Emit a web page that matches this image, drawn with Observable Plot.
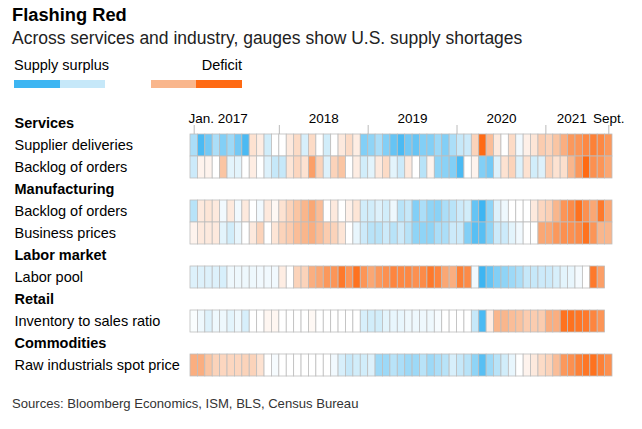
<!DOCTYPE html>
<html><head><meta charset="utf-8">
<script src="https://cdn.jsdelivr.net/npm/d3@7"></script>
<script src="https://cdn.jsdelivr.net/npm/@observablehq/plot@0.6"></script>
<style>
body{margin:0;background:#fff;font-family:"Liberation Sans",Arial,sans-serif;width:642px;height:429px;position:relative;overflow:hidden;color:#000}
.t{position:absolute;left:12px;white-space:nowrap;line-height:1.15}
#legend{position:absolute;top:80px;left:14px;display:flex}
#legend div{width:45.6px;height:8px}
#chart{position:absolute;top:100px;left:0}
</style></head><body>
<div class="t" style="top:4px;font-size:18.3px;font-weight:bold">Flashing Red</div>
<div class="t" style="top:28px;font-size:17.5px;color:#222">Across services and industry, gauges show U.S. supply shortages</div>
<div class="t" style="top:57px;left:14px;font-size:14.5px">Supply surplus</div>
<div class="t" style="top:57px;left:14px;width:228px;text-align:right;font-size:14.5px">Deficit</div>
<div id="legend"></div>
<div id="chart"></div>
<div class="t" style="top:396px;font-size:13.1px;color:#333">Sources: Bloomberg Economics, ISM, BLS, Census Bureau</div>
<script>
// Months Jan 2017 .. Sept 2021 (57 months), values: -1 = supply surplus, +1 = deficit
const supplierDeliveries = [-0.6,-0.95,-0.8,-0.6,-0.75,-0.65,-0.8,-0.95,0.2,0.12,-0.4,0,0,0.15,0.25,-0.35,0.25,0,-0.4,0,0.15,0.25,0.12,-0.75,-0.7,-0.6,-0.75,-0.85,-0.95,-0.8,-0.85,-0.75,-0.75,-0.65,-0.75,-0.6,-0.5,-0.45,0.3,1,0.45,0.15,0,0.25,-0.12,0.1,0.18,0.35,0.3,0.4,0.55,0.7,0.72,0.8,0.85,0.8,0.7];
const servicesBacklog = [-0.45,0.08,0.08,0,0.4,-0.25,-0.25,0,0.12,0,-0.3,-0.5,-0.5,0.18,0.28,0.2,0.65,0.3,-0.3,0.3,0.4,0,0.12,-0.4,-0.25,0.15,0.25,-0.25,-0.45,0.15,0,-0.55,0.08,-0.7,-0.72,-0.75,-0.95,0,0.08,-0.75,-0.8,-0.3,0.2,0.3,-0.3,0.2,-0.4,-0.3,0.3,0.2,0.22,0.5,0.7,1,0.75,0.72,0.6];
const mfgBacklog = [-0.55,0.15,0.18,0.15,-0.12,0.15,-0.12,0.15,0,-0.12,0.15,0.05,0.2,0.3,0.4,0.5,0.6,0.45,0,0.15,0,0.1,0.18,-0.4,-0.4,-0.3,-0.4,-0.15,-0.55,-0.5,-0.75,-0.6,-0.7,-0.72,-0.6,-0.55,-0.45,-0.4,-0.85,-1,-0.7,-0.3,-0.15,0,0,0,0.15,0.28,0.32,0.5,0.72,0.78,0.95,0.75,0.6,0.9,0.6];
const businessPrices = [0.08,0.15,0.15,0.15,-0.25,-0.4,-0.2,0,0.15,0.3,0,0.18,0.3,0.35,0.45,0.5,0.55,0.45,0.35,0.3,0.18,0,-0.2,-0.45,-0.55,-0.55,-0.45,-0.55,-0.45,-0.55,-0.7,-0.7,-0.7,-0.6,-0.6,-0.45,-0.45,-0.75,-0.9,-0.9,-0.7,-0.45,-0.45,-0.25,-0.12,0,0,0.6,0.6,0.7,0.75,0.75,0.78,0.95,0.72,0.5,0.5];
const laborPool = [-0.3,-0.3,-0.3,-0.3,-0.35,-0.15,-0.15,-0.15,-0.15,-0.12,-0.12,-0.12,0.12,0,0.3,0.3,0.55,0.6,0.7,0.72,0.9,0.72,0.95,0.72,0.6,0.7,0.75,0.82,0.8,0.8,0.75,0.78,0.9,0.82,0.6,0.55,0.85,0.78,-0.12,-1,-0.85,-0.75,-0.7,-0.65,-0.6,-0.5,-0.5,-0.45,-0.45,-0.35,-0.25,-0.2,-0.1,0,0.9,0.65];
const inventorySales = [-0.05,-0.15,-0.3,-0.15,-0.15,-0.25,-0.15,-0.35,0,0,0.06,0.06,0,0,0,0,0.05,0,0,0,0,0,0,-0.35,-0.4,-0.4,-0.25,-0.2,-0.2,-0.15,-0.15,-0.15,-0.15,-0.08,0,0,0,0,-0.5,-0.95,0.12,0.5,0.5,0.45,0.42,0.35,0.35,0.35,0.55,0.55,0.95,0.95,0.92,0.9,0.82,0.72];
const rawIndustrials = [0.55,0.55,0.4,0.3,0.28,0.28,0.28,0.3,0.3,0.2,0,-0.08,0,0,0,0,0,0,0,-0.12,-0.35,-0.5,-0.4,-0.4,-0.3,-0.65,-0.65,-0.55,-0.6,-0.65,-0.65,-0.55,-0.65,-0.6,-0.55,-0.35,-0.5,-0.55,-0.7,-0.9,-0.65,-0.55,-0.4,-0.2,0,0.08,0.15,0.25,0.3,0.45,0.7,0.75,0.85,0.92,0.95,0.85,0.75];

const groups = ["Services","Manufacturing","Labor market","Retail","Commodities"];
const rowLabels = ["Supplier deliveries","Backlog of orders","Backlog of orders","Business prices","Labor pool","Inventory to sales ratio","Raw industrials spot price"];
const rowGroups = [0,0,1,1,2,3,4];
const series = [supplierDeliveries, servicesBacklog, mfgBacklog, businessPrices, laborPool, inventorySales, rawIndustrials];

const tickMonths = [0.5, 12, 24, 36, 48, 56.5];
const yearLabels = ["2018","2019","2020","2021","Sept."];
const yearLabelPos = [18, 30, 42, 51.5, 56.5];
const legendColors = ["#3db5f2","#c6e8f9","#ffffff","#f9b68c","#ff6a13"];

// build slots: header then its rows
const slots = [];
groups.forEach((g, gi) => {
  slots.push({key: "g" + gi, label: g, header: true});
  rowLabels.forEach((l, ri) => { if (rowGroups[ri] === gi) slots.push({key: "r" + ri, label: l, header: false}); });
});
const cells = series.flatMap((vals, ri) => vals.map((v, i) => ({key: "r" + ri, i, v})));

const leg = document.getElementById("legend");
legendColors.forEach(c => { const d = document.createElement("div"); d.style.background = c; leg.appendChild(d); });

const chart = Plot.plot({
  width: 642, height: 285,
  marginLeft: 190, marginRight: 30, marginTop: 11, marginBottom: 8,
  style: {fontFamily: '"Liberation Sans", Arial, sans-serif', background: "transparent", color: "#000"},
  x: {domain: [0, 57], axis: null},
  y: {type: "band", domain: slots.map(s => s.key), padding: 0, axis: null},
  color: {type: "linear", domain: [-1, -0.5, 0, 0.5, 1], range: legendColors},
  marks: [
    Plot.barX(cells, {x1: "i", x2: d => d.i + 1, y: "key", fill: "v", stroke: "#bdbdbd", strokeWidth: 0.8}),
    Plot.tickX(tickMonths, {x: d => d, y: () => "g0", insetTop: 13, stroke: "#bbb", strokeWidth: 1}),
    Plot.text(slots.filter(s => s.header), {y: "key", text: "label", frameAnchor: "left", textAnchor: "start", dx: -176, fontWeight: "bold", fontSize: 14.5, fill: "#000"}),
    Plot.text(slots.filter(s => !s.header), {y: "key", text: "label", frameAnchor: "left", textAnchor: "start", dx: -176, fontSize: 14.5, fill: "#000"}),
    Plot.text(["Jan. 2017"], {x: () => 0, text: d => d, frameAnchor: "top", textAnchor: "start", dx: -2, dy: 2, fontSize: 13.5, fill: "#000"}),
    Plot.text(yearLabels, {x: (d, i) => yearLabelPos[i], text: d => d, frameAnchor: "top", textAnchor: "middle", dy: 2, fontSize: 13.5, fill: "#000"})
  ]
});
document.getElementById("chart").appendChild(chart);
</script>
</body></html>
